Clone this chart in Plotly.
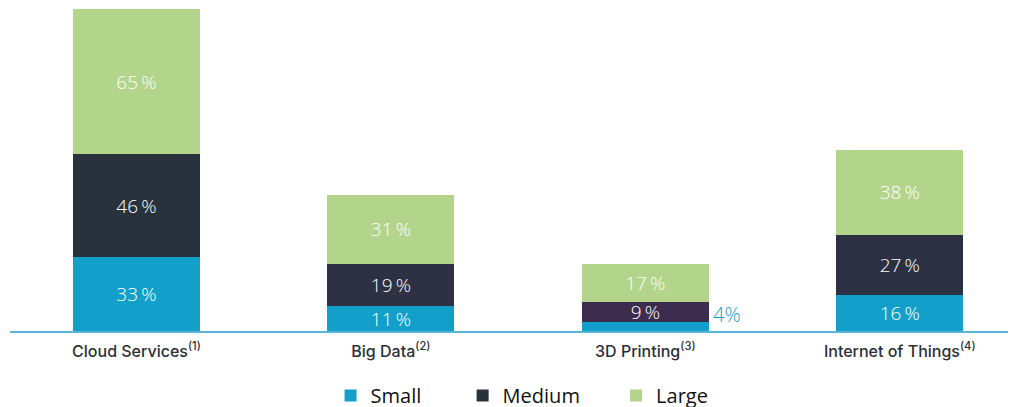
import plotly.graph_objects as go

categories = ["Cloud Services<sup>(1)</sup>", "Big Data<sup>(2)</sup>",
              "3D Printing<sup>(3)</sup>", "Internet of Things<sup>(4)</sup>"]
small = [33, 11, 4, 16]
medium = [46, 19, 9, 27]
large = [65, 31, 17, 38]
series_names = ["Small", "Medium", "Large"]

c_small = "#129fca"
c_medium = ["#27323d", "#2e3043", "#3c2d4f", "#2b3142"]
c_large = "#b3d48b"

def labels(vals, hide=()):
    return ["" if i in hide else f"{v}\u2009%" for i, v in enumerate(vals)]

txtfont = dict(family="Open Sans", size=19, color="white", weight=300)
common = dict(textposition="inside", insidetextanchor="middle",
              textfont=txtfont, cliponaxis=False, constraintext="none",
              marker_line_width=0, hoverinfo="skip")

fig = go.Figure()
fig.add_trace(go.Bar(name=series_names[0] + "\u00a0" * 7, x=categories, y=small,
                     text=labels(small, hide=(2,)), marker_color=c_small, **common))
fig.add_trace(go.Bar(name=series_names[1] + "\u00a0" * 6, x=categories, y=medium,
                     text=labels(medium), marker_color=c_medium, **common))
fig.add_trace(go.Bar(name=series_names[2], x=categories, y=large,
                     text=labels(large), marker_color=c_large, **common))

fig.add_annotation(x=categories[2], y=small[2], text=f"{small[2]}%", showarrow=False,
                   xanchor="left", yanchor="middle", xshift=66, yshift=8,
                   font=dict(family="Open Sans", size=20, color=c_small, weight=300))

fig.update_layout(
    width=1008, height=407,
    margin=dict(l=2, r=0, t=0, b=83),
    barmode="stack", bargap=0.5,
    plot_bgcolor="white", paper_bgcolor="white",
    xaxis=dict(range=[-0.497, 3.457], showline=True, linecolor="#5ab4d9", linewidth=1.5,
               showgrid=False, ticks="", ticklabelstandoff=5,
               tickfont=dict(family="Inter", size=16, color="#2b2f38", weight=500)),
    yaxis=dict(range=[0, 144.45], visible=False, showgrid=False),
    legend=dict(orientation="h", x=0.509, xanchor="center", y=-0.2006, yanchor="middle",
                font=dict(family="Open Sans", size=20, color="#111111", weight=500),
                traceorder="normal", itemwidth=30),
    showlegend=True,
)

fig.write_html("out.html")
